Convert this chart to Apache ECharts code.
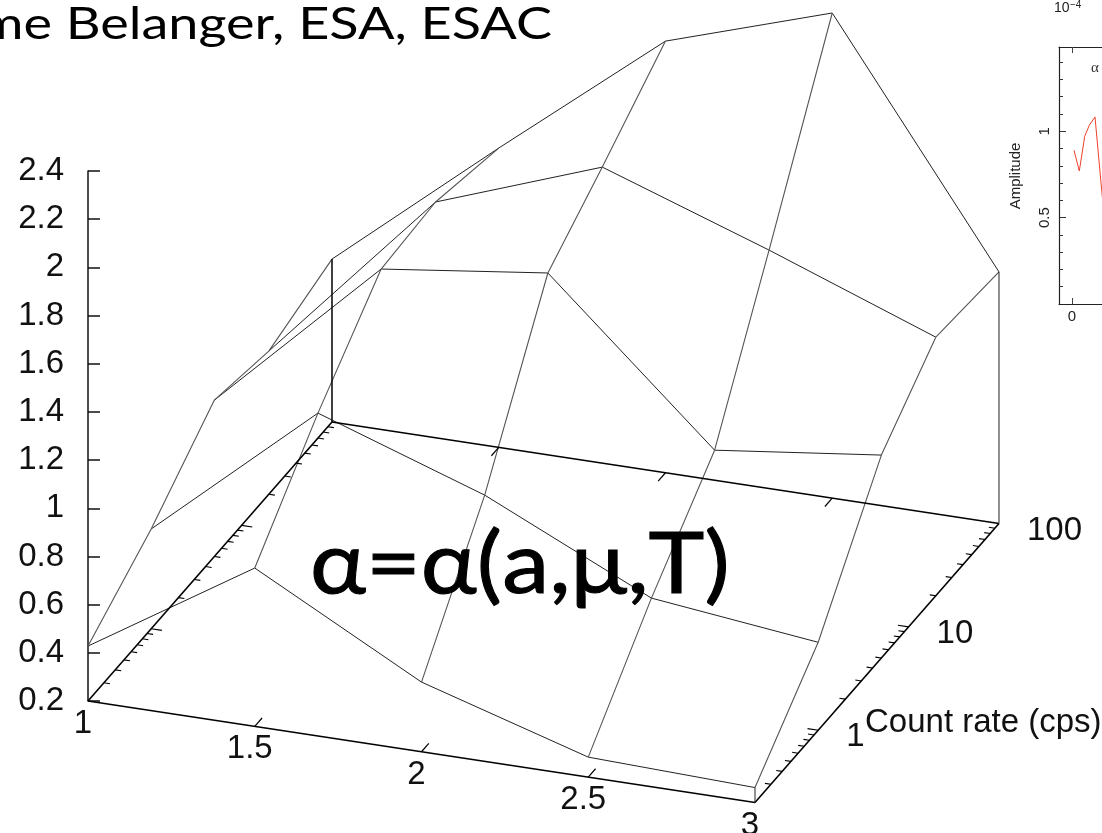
<!DOCTYPE html>
<html><head><meta charset="utf-8">
<style>html,body{margin:0;padding:0;background:#fff;overflow:hidden}#c{width:1102px;height:833px}</style>
<script src="https://cdn.jsdelivr.net/npm/echarts@6/dist/echarts.min.js"></script>
</head><body><div id="c"></div>
<script>
// --- surface data: alpha(a, count rate)
const aValues = [1, 1.5, 2, 2.5, 3];
const countRates = [0.2, 1, 5, 20, 100];
const alphaAt02 = [0.428, 0.857, 0.489, 0.283, 0.262];
const alphaAt1 = [0.614, 1.2, 0.965, 0.643, 0.565];
const alphaAt5 = [0.849, 1.498, 1.587, 0.957, 1.042];
const alphaAt20 = [0.794, 1.518, 1.768, 1.529, 1.273];
const alphaAt100 = [0.876, 1.442, 1.991, 2.213, 1.244];
const surfaceRows = [alphaAt02, alphaAt1, alphaAt5, alphaAt20, alphaAt100];
// --- axes
const aTicks = [1.5, 2, 2.5];
const aLabels = ['1', '1.5', '2', '2.5', '3'];
const countLabels = ['1', '10', '100'];
const countMajor = [1, 10];
const countMinor = [0.3,0.4,0.5,0.6,0.7,0.8,0.9,2,3,4,5,6,7,8,9,20,30,40,50,60,70,80,90];
// --- inset
const insetX = [0.02, 0.073, 0.127, 0.173, 0.23, 0.297, 0.36];
const insetAmplitude = [0.89, 0.77, 0.97, 1.035, 1.083, 0.658, 0.3];
const insetMinor = [0.1,0.2,0.3,0.4,0.6,0.7,0.8,0.9,1.1,1.2,1.3,1.4];

const LOGMIN = Math.log10(0.2), LOGMAX = 2;
const depth = c => (Math.log10(c) - LOGMIN) / (LOGMAX - LOGMIN);
// parallel projection of (a, depth, z) on the picture plane
function proj(a, u, z) {
  return [a + u * 0.7316, z - (a - 1) * 0.2106 + u * 1.1577];
}
const BASE = 0.2;
const black = '#000';

const series = [];
// rows of the wireframe
surfaceRows.forEach((row, j) => {
  series.push({type:'line', xAxisIndex:1, yAxisIndex:1, silent:true, symbol:'none', z:3,
    lineStyle:{color:'#222', width:1},
    data: row.map((z, i) => proj(aValues[i], depth(countRates[j]), z))});
});
// columns of the wireframe
aValues.forEach((a, i) => {
  series.push({type:'line', xAxisIndex:1, yAxisIndex:1, silent:true, symbol:'none', z:3,
    lineStyle:{color:'#555', width:1.1},
    data: countRates.map((c, j) => proj(a, depth(c), surfaceRows[j][i]))});
});
// segments: base frame, verticals, ticks
function seg(u0, a0, z0, u1, a1, z1, w, col) {
  return proj(a0, u0, z0).concat(proj(a1, u1, z1), [w, col]);
}
const segs = [];
segs.push(seg(0,1,BASE, 0,3,BASE, 1.6, black));
segs.push(seg(0,3,BASE, 1,3,BASE, 1.6, black));
segs.push(seg(1,3,BASE, 1,1,BASE, 1.6, black));
segs.push(seg(1,1,BASE, 0,1,BASE, 1.6, black));
segs.push(seg(1,1,BASE, 1,1,alphaAt100[0], 1.5, black));
segs.push(seg(1,3,BASE, 1,3,alphaAt100[4], 1, '#222'));
segs.push(seg(0,3,BASE, 0,3,alphaAt02[4], 1, '#222'));
aTicks.forEach(a => {
  segs.push(seg(0,a,BASE, 0.03,a,BASE, 1.2, black));
  segs.push(seg(1,a,BASE, 0.97,a,BASE, 1.2, black));
});
countMajor.forEach(c => {
  const u = depth(c);
  segs.push(seg(u,1,BASE, u,1.032,BASE, 1.2, black));
  segs.push(seg(u,3,BASE, u,2.968,BASE, 1.2, black));
});
countMinor.forEach(c => {
  const u = depth(c);
  segs.push(seg(u,1,BASE, u,1.018,BASE, 1.1, black));
  segs.push(seg(u,3,BASE, u,2.982,BASE, 1.1, black));
});
series.push({type:'custom', xAxisIndex:1, yAxisIndex:1, silent:true, z:4, clip:false,
  data: segs,
  renderItem(params, api) {
    const p0 = api.coord([api.value(0), api.value(1)]);
    const p1 = api.coord([api.value(2), api.value(3)]);
    const d = segs[params.dataIndex];
    return {type:'line', shape:{x1:p0[0],y1:p0[1],x2:p1[0],y2:p1[1]},
      style:{stroke:d[5], lineWidth:d[4], fill:null}};
  }});
// tick labels on the oblique axes
const labelRows = aLabels.map((t, i) => {
  const p = proj(aValues[i], 0, BASE);
  return [p[0], p[1], t, -5, 23, 'center'];
}).concat(countLabels.map((t, i) => {
  const p = proj(3, depth(Math.pow(10, i)), BASE);
  return [p[0], p[1], t, 28, 7, 'left'];
}));
series.push({type:'custom', xAxisIndex:1, yAxisIndex:1, silent:true, z:5, clip:false,
  data: labelRows,
  renderItem(params, api) {
    const d = labelRows[params.dataIndex];
    const p = api.coord([d[0], d[1]]);
    return {type:'text', x:p[0]+d[3], y:p[1]+d[4],
      style:{text:d[2], fill:'#111', fontSize:33, fontFamily:'"Liberation Sans"',
        textAlign:d[5], textVerticalAlign:'middle'}};
  }});
// inset curve
series.push({type:'line', xAxisIndex:2, yAxisIndex:2, silent:true, symbol:'none', z:3,
  lineStyle:{color:'#f0402a', width:1},
  data: insetX.map((x, i) => [x, insetAmplitude[i]])});

const hiddenAxis = {show:false};
const option = {
  animation:false, backgroundColor:'#fff',
  grid:[
    {left:88, top:171, width:100, height:530},
    {left:0, top:0, width:1102, height:833},
    {left:1059, top:47, width:43, height:257}
  ],
  xAxis:[
    Object.assign({gridIndex:0, type:'value', min:0, max:1}, hiddenAxis),
    Object.assign({gridIndex:1, type:'value', min:0.73613, max:4.04048}, hiddenAxis),
    {gridIndex:2, type:'value', min:-0.13, max:0.30, position:'bottom',
      splitLine:{show:false},
      axisLine:{show:true, onZero:false, lineStyle:{color:'#222', width:1.2}},
      axisTick:{show:true, inside:true, length:6, customValues:[0], lineStyle:{color:'#444'}},
      axisLabel:{show:true, customValues:[0], fontSize:15, color:'#222', margin:5, fontFamily:'"Liberation Sans"'}},
    {gridIndex:2, type:'value', min:-0.13, max:0.30, position:'top',
      splitLine:{show:false},
      axisLine:{show:true, onZero:false, lineStyle:{color:'#222', width:1.2}},
      axisTick:{show:true, inside:true, length:6, customValues:[0], lineStyle:{color:'#444'}},
      axisLabel:{show:false}}
  ],
  yAxis:[
    {gridIndex:0, type:'value', min:0.2, max:2.4, interval:0.2, position:'left',
      splitLine:{show:false},
      axisLine:{show:true, onZero:false, lineStyle:{color:'#111', width:1.5}},
      axisTick:{show:true, inside:true, length:12, lineStyle:{color:'#111', width:1.5}},
      axisLabel:{show:true, fontSize:33, color:'#111', margin:24, padding:[6,0,0,0], fontFamily:'"Liberation Sans"',
        formatter:v => String(Math.round(v*10)/10)}},
    Object.assign({gridIndex:1, type:'value', min:-0.34772, max:3.10871}, hiddenAxis),
    {gridIndex:2, type:'value', min:0, max:1.488, position:'left',
      splitLine:{show:false},
      axisLine:{show:true, onZero:false, lineStyle:{color:'#222', width:1.2}},
      axisTick:{show:true, inside:true, length:7, customValues:[0.5,1], lineStyle:{color:'#333'}},
      axisLabel:{show:true, customValues:[0.5,1], rotate:90, fontSize:15, color:'#222', margin:7,
        fontFamily:'"Liberation Sans"'}},
    {gridIndex:2, type:'value', min:0, max:1.488, position:'left',
      splitLine:{show:false},
      axisLine:{show:false, onZero:false},
      axisTick:{show:true, inside:true, length:4, customValues:insetMinor, lineStyle:{color:'#333'}},
      axisLabel:{show:false}}
  ],
  graphic:[
    {type:'text', z:10, x:552, y:24, scaleX:1.2, silent:true, style:{text:'me Belanger, ESA, ESAC', fill:'#000',
      font:'45px Lato', textAlign:'right', textVerticalAlign:'middle'}},
    {type:'text', z:10, x:310, y:565, scaleX:1.1, silent:true, style:{text:'α=α(a,μ,T)', fill:'#000',
      stroke:'#000', lineWidth:1, font:'86px Lato', textAlign:'left', textVerticalAlign:'middle'}},
    {type:'text', z:10, x:865, y:723, silent:true, style:{text:'Count rate (cps)', fill:'#111',
      font:'33px "Liberation Sans"', textAlign:'left', textVerticalAlign:'middle'}},
    {type:'text', z:10, x:1054, y:8, silent:true, style:{text:'10', fill:'#222',
      font:'14px "Liberation Sans"', textAlign:'left', textVerticalAlign:'middle'}},
    {type:'text', z:10, x:1070, y:5, silent:true, style:{text:'−4', fill:'#222',
      font:'10px "Liberation Sans"', textAlign:'left', textVerticalAlign:'middle'}},
    {type:'text', z:10, x:1091, y:68, silent:true, style:{text:'α', fill:'#333',
      font:'15px "Liberation Serif"', textAlign:'left', textVerticalAlign:'middle'}},
    {type:'text', z:10, x:1016, y:176, rotation:Math.PI/2, silent:true, style:{text:'Amplitude', fill:'#222',
      font:'15px "Liberation Sans"', textAlign:'center', textVerticalAlign:'middle'}}
  ],
  series
};
const chart = echarts.init(document.getElementById('c'), null, {renderer:'canvas'});
chart.setOption(option);
</script></body></html>
